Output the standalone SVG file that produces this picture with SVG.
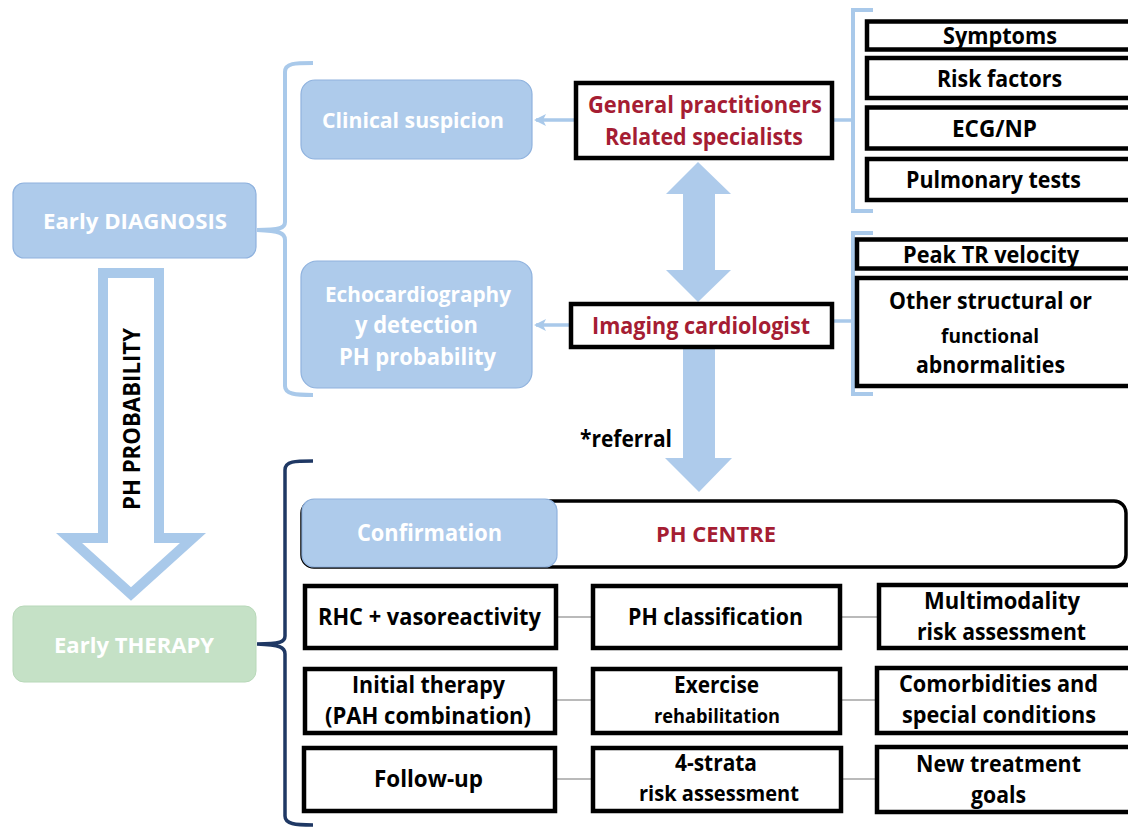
<svg xmlns="http://www.w3.org/2000/svg" width="1128" height="828" viewBox="0 0 1128 828">
<defs>
<style>
text{font-family:"Open Sans",Lato,"Liberation Sans",sans-serif;font-weight:bold;text-anchor:middle;}
.blue{fill:#AECBEB;stroke:#8FB2DE;stroke-width:1.2;}
.green{fill:#C5E1C6;stroke:#B8D8B9;stroke-width:1;}
.wt{fill:#ffffff;font-size:22px;}
.bx{fill:#ffffff;stroke:#000;stroke-width:4.5;}
.bk{fill:#000;font-size:22.5px;}
.red{fill:#A51D33;font-size:22.5px;}
.brl{fill:none;stroke:#A9C9EA;stroke-width:4;}
.brn{fill:none;stroke:#1F3864;stroke-width:3.5;}
.thin{stroke:#777;stroke-width:1.2;fill:none;}
.conn{stroke:#A9C9EA;stroke-width:3.5;fill:none;}
.big{fill:#AECBEB;}
</style>
<marker id="ah2" markerWidth="12" markerHeight="12" refX="10" refY="6" orient="auto" markerUnits="userSpaceOnUse" viewBox="0 0 12 12">
<path d="M0,0 L12,6 L0,12 L3,6 z" fill="#A9C9EA"/>
</marker>
</defs>
<rect width="1128" height="828" fill="#ffffff"/>

<g id="connectors">
<path class="brl" d="M313,63 C295,63 285,63 285,72 L285,222 C285,228 280,230 257,230 C280,231 285,233 285,240 L285,386 C285,394 295,395 313,395"/>
<path class="brn" d="M313,461 C295,461 285,461 285,470 L285,636 C285,642 280,644 257,644 C280,645 285,647 285,654 L285,816 C285,824 295,825 313,825"/>
<path class="brl" d="M873,10 L853,10 L853,211 L873,211"/>
<path class="brl" d="M873,233 L853,233 L853,394 L873,394"/>
<line class="conn" x1="834" y1="120" x2="853" y2="120"/>
<line class="conn" x1="834" y1="321" x2="853" y2="321"/>
<line class="conn" x1="575" y1="120" x2="536" y2="120" marker-end="url(#ah2)"/>
<line class="conn" x1="570" y1="325" x2="536" y2="325" marker-end="url(#ah2)"/>
<path class="big" d="M698,162 L731,194 L715,194 L715,270 L731,270 L698,302 L666,270 L683,270 L683,194 L666,194 Z"/>
<path class="big" d="M683,348 L715,348 L715,458 L732,458 L699,492 L665,458 L683,458 Z"/>
<path d="M103,273 L159,273 L159,538 L193,538 L131,594 L69,538 L103,538 Z" fill="#ffffff" stroke="#A9C9EA" stroke-width="10" stroke-linejoin="miter"/>
<line class="thin" x1="556" y1="617" x2="592" y2="617"/>
<line class="thin" x1="840" y1="617" x2="878" y2="617"/>
<line class="thin" x1="556" y1="700" x2="592" y2="700"/>
<line class="thin" x1="840" y1="700" x2="876" y2="700"/>
<line class="thin" x1="556" y1="779" x2="592" y2="779"/>
<line class="thin" x1="840" y1="779" x2="876" y2="779"/>
</g>

<g id="ph-probability-label">
<text class="bk" style="font-size:23px" transform="translate(140,419) rotate(-90)" textLength="182" lengthAdjust="spacingAndGlyphs">PH PROBABILITY</text>
</g>
<g id="referral-label">
<text class="bk" x="626" y="447" style="font-size:23px" textLength="92" lengthAdjust="spacingAndGlyphs">*referral</text>
</g>

<g id="early-diagnosis">
<rect class="blue" x="13" y="183" width="243" height="75" rx="11"/>
<text class="wt" x="135" y="229" textLength="184" lengthAdjust="spacingAndGlyphs">Early DIAGNOSIS</text>
</g>
<g id="early-therapy">
<rect class="green" x="13" y="606" width="243" height="76" rx="11"/>
<text class="wt" x="134" y="653" textLength="160" lengthAdjust="spacingAndGlyphs">Early THERAPY</text>
</g>
<g id="clinical-suspicion">
<rect class="blue" x="301" y="80" width="231" height="79" rx="14"/>
<text class="wt" x="413" y="128" textLength="182" lengthAdjust="spacingAndGlyphs">Clinical suspicion</text>
</g>
<g id="echocardiography">
<rect class="blue" x="301" y="261" width="231" height="127" rx="16"/>
<text class="wt" x="418" y="302" style="font-size:21px" textLength="186" lengthAdjust="spacingAndGlyphs">Echocardiography</text>
<text class="wt" x="416.5" y="333" style="font-size:22.5px" textLength="123" lengthAdjust="spacingAndGlyphs">y detection</text>
<text class="wt" x="417.5" y="365" style="font-size:22.5px" textLength="157" lengthAdjust="spacingAndGlyphs">PH probability</text>
</g>
<g id="general-practitioners">
<rect class="bx" x="576" y="83" width="256" height="75"/>
<text class="red" x="705" y="113" textLength="234" lengthAdjust="spacingAndGlyphs">General practitioners</text>
<text class="red" x="704" y="145" textLength="198" lengthAdjust="spacingAndGlyphs">Related specialists</text>
</g>
<g id="imaging-cardiologist">
<rect class="bx" x="571" y="304" width="261" height="43"/>
<text class="red" x="701" y="334" textLength="218" lengthAdjust="spacingAndGlyphs">Imaging cardiologist</text>
</g>
<g id="symptoms">
<rect class="bx" x="867" y="21.5" width="280" height="28"/>
<text class="bk" x="1000" y="44" textLength="114" lengthAdjust="spacingAndGlyphs">Symptoms</text>
</g>
<g id="risk-factors">
<rect class="bx" x="867" y="58" width="280" height="40"/>
<text class="bk" x="999.5" y="87" textLength="125" lengthAdjust="spacingAndGlyphs">Risk factors</text>
</g>
<g id="ecg-np">
<rect class="bx" x="867" y="107.5" width="280" height="41"/>
<text class="bk" x="994.5" y="137" textLength="85" lengthAdjust="spacingAndGlyphs">ECG/NP</text>
</g>
<g id="pulmonary-tests">
<rect class="bx" x="867" y="159" width="280" height="41"/>
<text class="bk" x="993.5" y="188" textLength="175" lengthAdjust="spacingAndGlyphs">Pulmonary tests</text>
</g>
<g id="peak-tr">
<rect class="bx" x="857" y="239.5" width="290" height="29"/>
<text class="bk" x="991" y="263" textLength="176" lengthAdjust="spacingAndGlyphs">Peak TR velocity</text>
</g>
<g id="other-structural">
<rect class="bx" x="857" y="278" width="290" height="108"/>
<text class="bk" x="990.5" y="309" style="font-size:23.5px" textLength="203" lengthAdjust="spacingAndGlyphs">Other structural or</text>
<text class="bk" x="990" y="343" style="font-size:20px" textLength="98" lengthAdjust="spacingAndGlyphs">functional</text>
<text class="bk" x="990.5" y="373" textLength="149" lengthAdjust="spacingAndGlyphs">abnormalities</text>
</g>
<g id="ph-centre">
<rect x="302" y="501" width="824" height="66" rx="12" fill="#ffffff" stroke="#000" stroke-width="3.5"/>
<rect class="blue" x="302" y="499" width="255" height="68" rx="12" stroke="#7FA3D3"/>
<text class="wt" x="429.5" y="541" style="font-size:22.5px" textLength="145" lengthAdjust="spacingAndGlyphs">Confirmation</text>
<text class="red" x="716" y="542" style="font-size:21px" textLength="120" lengthAdjust="spacingAndGlyphs">PH CENTRE</text>
</g>
<g id="rhc">
<rect class="bx" x="305" y="586" width="251" height="62"/>
<text class="bk" x="429.5" y="625" textLength="223" lengthAdjust="spacingAndGlyphs">RHC + vasoreactivity</text>
</g>
<g id="ph-classification">
<rect class="bx" x="593" y="586" width="247" height="62"/>
<text class="bk" x="715.5" y="625" textLength="175" lengthAdjust="spacingAndGlyphs">PH classification</text>
</g>
<g id="multimodality">
<rect class="bx" x="879" y="585" width="270" height="63"/>
<text class="bk" x="1002" y="609" textLength="156" lengthAdjust="spacingAndGlyphs">Multimodality</text>
<text class="bk" x="1001.5" y="640" textLength="169" lengthAdjust="spacingAndGlyphs">risk assessment</text>
</g>
<g id="initial-therapy">
<rect class="bx" x="305" y="669" width="250" height="64"/>
<text class="bk" x="428.5" y="693" textLength="153" lengthAdjust="spacingAndGlyphs">Initial therapy</text>
<text class="bk" x="428" y="724" textLength="206" lengthAdjust="spacingAndGlyphs">(PAH combination)</text>
</g>
<g id="exercise">
<rect class="bx" x="593" y="669" width="247" height="64"/>
<text class="bk" x="716.5" y="693" textLength="85" lengthAdjust="spacingAndGlyphs">Exercise</text>
<text class="bk" x="717" y="723" style="font-size:19.5px" textLength="126" lengthAdjust="spacingAndGlyphs">rehabilitation</text>
</g>
<g id="comorbidities">
<rect class="bx" x="877" y="668" width="270" height="65"/>
<text class="bk" x="998.5" y="692" textLength="199" lengthAdjust="spacingAndGlyphs">Comorbidities and</text>
<text class="bk" x="999" y="723" textLength="194" lengthAdjust="spacingAndGlyphs">special conditions</text>
</g>
<g id="follow-up">
<rect class="bx" x="304" y="748" width="251" height="63"/>
<text class="bk" x="428.5" y="787" textLength="109" lengthAdjust="spacingAndGlyphs">Follow-up</text>
</g>
<g id="four-strata">
<rect class="bx" x="593" y="748" width="248" height="63"/>
<text class="bk" x="716" y="771" textLength="82" lengthAdjust="spacingAndGlyphs">4-strata</text>
<text class="bk" x="719" y="801" style="font-size:20.5px" textLength="160" lengthAdjust="spacingAndGlyphs">risk assessment</text>
</g>
<g id="new-treatment">
<rect class="bx" x="877" y="747" width="270" height="65"/>
<text class="bk" x="998.5" y="772" textLength="165" lengthAdjust="spacingAndGlyphs">New treatment</text>
<text class="bk" x="998.5" y="803" textLength="55" lengthAdjust="spacingAndGlyphs">goals</text>
</g>
</svg>
